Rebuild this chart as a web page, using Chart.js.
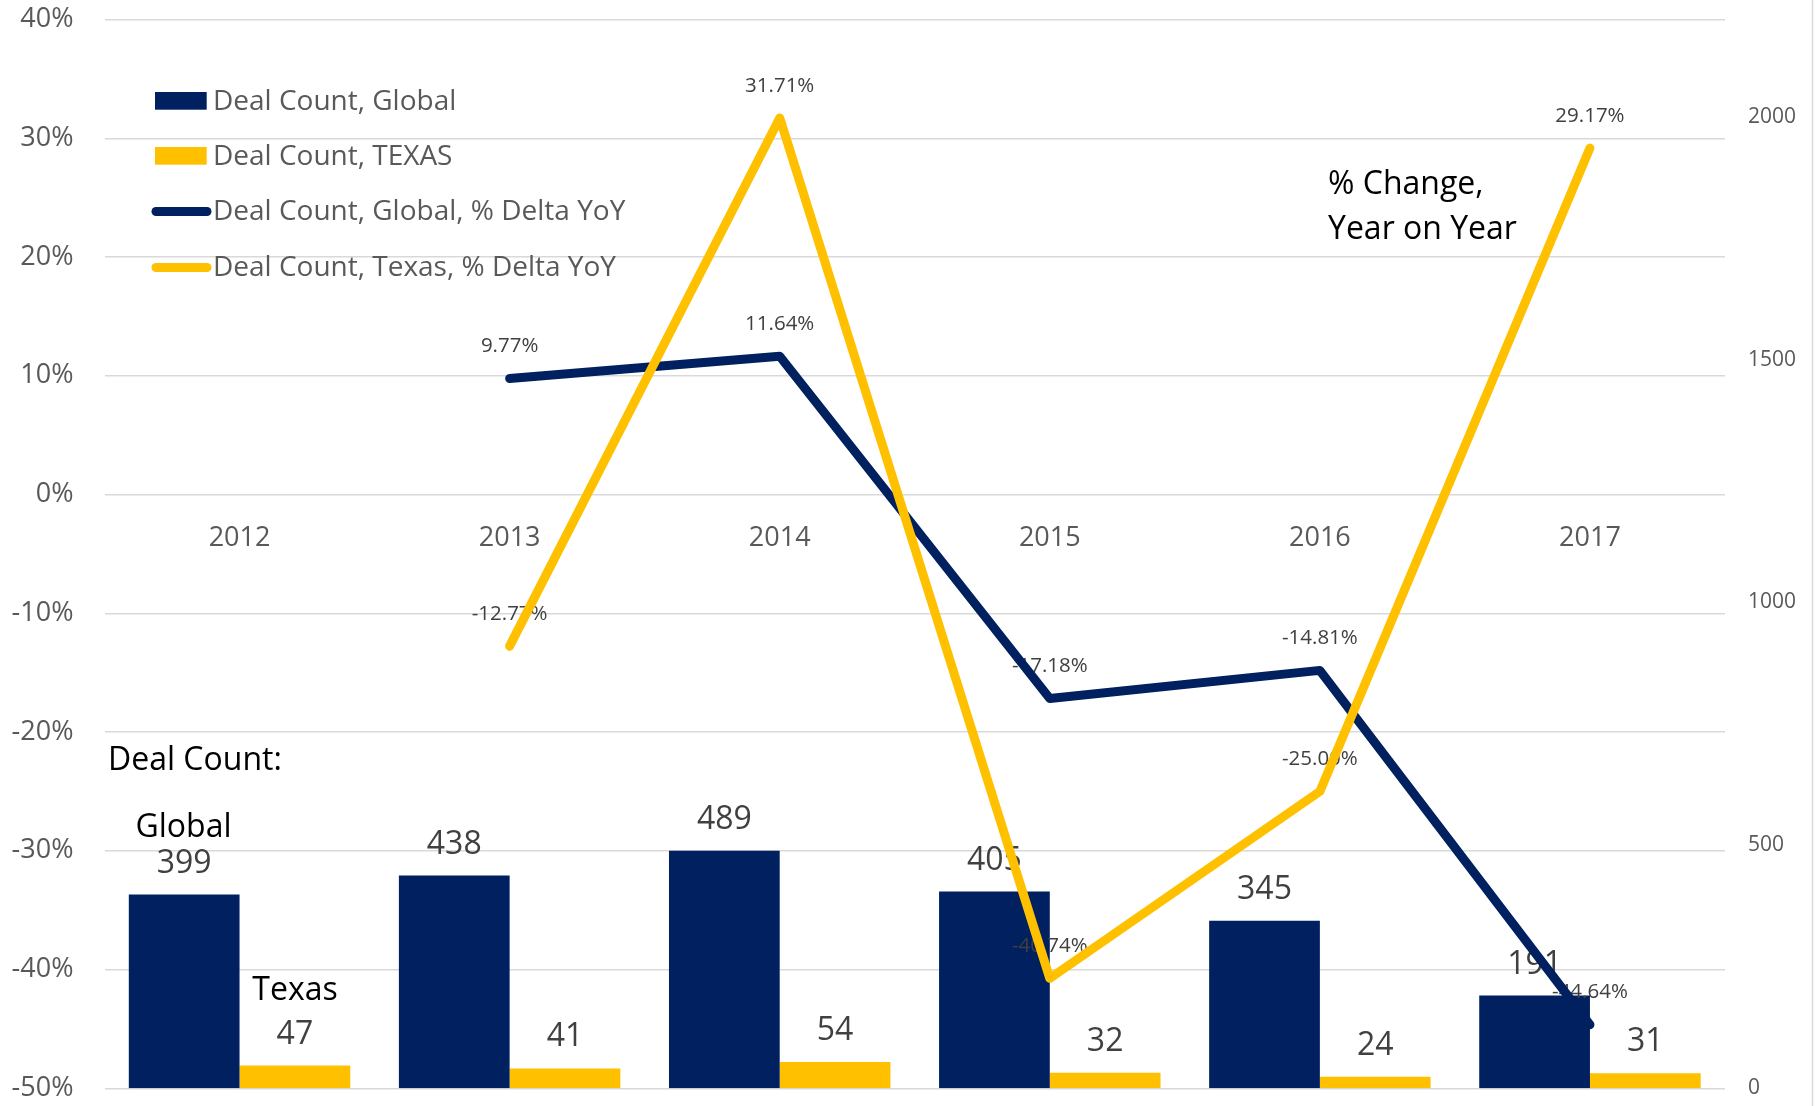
<!DOCTYPE html>
<html>
<head>
<meta charset="utf-8">
<script src="https://cdn.jsdelivr.net/npm/chart.js@4.4.1/dist/chart.umd.min.js"></script>
<style>
  html, body { margin: 0; padding: 0; background: #fff; }
  #contenedor { position: relative; width: 1820px; height: 1106px; }
</style>
</head>
<body>
<div id="contenedor"><canvas id="grafico"></canvas></div>
<script>
// datos
const anios = ['2012', '2013', '2014', '2015', '2016', '2017'];
const globalCount = [399, 438, 489, 405, 345, 191];
const texasCount = [47, 41, 54, 32, 24, 31];
const globalDelta = [null, 9.77, 11.64, -17.18, -14.81, -44.64];
const texasDelta = [null, -12.77, 31.71, -40.74, -25.00, 29.17];
const ticksPct = [-50, -40, -30, -20, -10, 0, 10, 20, 30, 40];
const ticksCount = [0, 500, 1000, 1500, 2000];

const azul = '#002060';
const amarillo = '#FFC000';
const fuente = '"Open Sans", sans-serif';

// etiquetas de datos: se dibujan antes de las lineas (las lineas las tapan)
const etiquetas = {
  id: 'etiquetas',
  beforeDatasetsDraw(chart) { chart.$hechas = false; },
  beforeDatasetDraw(chart, args) {
    if (args.meta.type !== 'line' || chart.$hechas) return;
    chart.$hechas = true;
    const ctx = chart.ctx;
    ctx.save();
    ctx.textAlign = 'center';
    ctx.textBaseline = 'middle';
    ctx.fillStyle = '#404040';
    chart.data.datasets.forEach((ds, i) => {
      const meta = chart.getDatasetMeta(i);
      meta.data.forEach((el, j) => {
        const v = ds.data[j];
        if (v === null || v === undefined) return;
        if (ds.type === 'bar') {
          ctx.font = '32px ' + fuente;
          ctx.fillText(String(v), el.x, el.y - 31);
        } else {
          ctx.font = '20.5px ' + fuente;
          ctx.fillText(v.toFixed(2) + '%', el.x, el.y - 32);
        }
      });
    });
    ctx.restore();
  }
};

// leyenda y textos sueltos
const extras = {
  id: 'extras',
  afterDraw(chart) {
    const ctx = chart.ctx;
    const filas = [102, 157, 212.5, 268.5];
    ctx.save();
    ctx.textBaseline = 'middle';
    ctx.textAlign = 'left';
    ctx.font = '28px ' + fuente;
    chart.data.datasets.forEach((ds, i) => {
      const y = filas[i];
      if (ds.type === 'bar') {
        ctx.fillStyle = ds.backgroundColor;
        ctx.fillRect(155, y - 10, 51.7, 17.7);
      } else {
        ctx.strokeStyle = ds.borderColor;
        ctx.lineWidth = 9;
        ctx.lineCap = 'round';
        ctx.beginPath();
        ctx.moveTo(156, y - 1);
        ctx.lineTo(207, y - 1);
        ctx.stroke();
      }
      ctx.fillStyle = '#595959';
      ctx.fillText(ds.label, 213, y);
    });

    ctx.fillStyle = '#000';
    ctx.font = '32px ' + fuente;
    ctx.fillText('Deal Count:', 108, 760.5);
    ctx.fillText('% Change,', 1328, 184.5);
    ctx.fillText('Year on Year', 1328, 229.5);
    ctx.textAlign = 'center';
    ctx.fillText('Global', 183.5, 827.5);
    ctx.fillText('Texas', 295, 990.5);

    // borde derecho del area del grafico
    ctx.strokeStyle = '#d9d9d9';
    ctx.lineWidth = 1.5;
    ctx.beginPath();
    ctx.moveTo(1812.5, 0);
    ctx.lineTo(1812.5, 1106);
    ctx.stroke();
    ctx.restore();
  }
};

// ancho fijo y sin relleno extra arriba/abajo
function fijarEje(ancho) {
  return (scale) => {
    scale.width = ancho;
    scale.paddingTop = 0;
    scale.paddingBottom = 0;
  };
}

const ctx = document.getElementById('grafico').getContext('2d');
new Chart(ctx, {
  data: {
    labels: anios,
    datasets: [
      {
        type: 'bar',
        label: 'Deal Count, Global',
        data: globalCount,
        backgroundColor: azul,
        yAxisID: 'y1',
        order: 2,
        categoryPercentage: 0.82,
        barPercentage: 1.0
      },
      {
        type: 'bar',
        label: 'Deal Count, TEXAS',
        data: texasCount,
        backgroundColor: amarillo,
        yAxisID: 'y1',
        order: 2,
        categoryPercentage: 0.82,
        barPercentage: 1.0
      },
      {
        type: 'line',
        label: 'Deal Count, Global, % Delta YoY',
        data: globalDelta,
        borderColor: azul,
        backgroundColor: azul,
        borderWidth: 9,
        borderCapStyle: 'round',
        borderJoinStyle: 'round',
        pointRadius: 0,
        tension: 0,
        yAxisID: 'y',
        order: 1
      },
      {
        type: 'line',
        label: 'Deal Count, Texas, % Delta YoY',
        data: texasDelta,
        borderColor: amarillo,
        backgroundColor: amarillo,
        borderWidth: 9,
        borderCapStyle: 'round',
        borderJoinStyle: 'round',
        pointRadius: 0,
        tension: 0,
        yAxisID: 'y',
        order: 0
      }
    ]
  },
  options: {
    responsive: true,
    maintainAspectRatio: false,
    animation: false,
    layout: { padding: { top: 19.5, bottom: 17.7, left: 0, right: 0 } },
    plugins: {
      legend: { display: false },
      tooltip: { enabled: false }
    },
    scales: {
      x: {
        type: 'category',
        offset: true,
        position: { y: 0 },
        grid: { display: false },
        border: { display: false },
        ticks: {
          color: '#595959',
          font: { family: fuente, size: 27 },
          padding: 19.5,
          maxRotation: 0
        }
      },
      y: {
        position: 'left',
        min: -50,
        max: 40,
        afterBuildTicks: (scale) => { scale.ticks = ticksPct.map(v => ({ value: v })); },
        afterFit: fijarEje(104.5),
        grid: { color: '#d9d9d9', lineWidth: 1.5, drawTicks: false },
        border: { display: false },
        ticks: {
          color: '#595959',
          font: { family: fuente, size: 27 },
          padding: 31,
          callback: (v) => v + '%'
        }
      },
      y1: {
        position: 'right',
        min: 0,
        max: 2200,
        afterBuildTicks: (scale) => { scale.ticks = ticksCount.map(v => ({ value: v })); },
        afterFit: fijarEje(95),
        grid: { display: false, drawTicks: false },
        border: { display: false },
        ticks: {
          color: '#595959',
          font: { family: fuente, size: 21 },
          padding: 23,
          callback: (v) => String(v)
        }
      }
    }
  },
  plugins: [etiquetas, extras]
});
</script>
</body>
</html>
